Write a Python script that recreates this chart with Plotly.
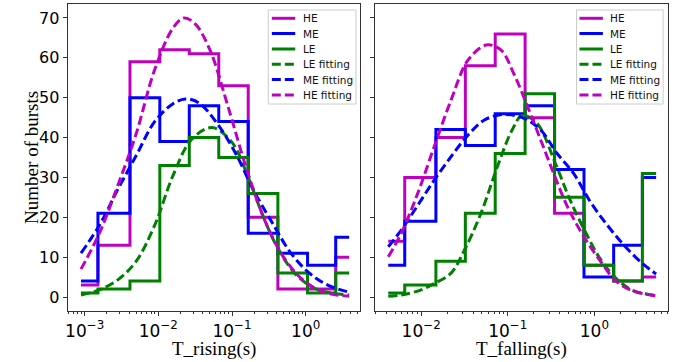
import plotly.graph_objects as go

# ---------------- data (log10 of x positions, counts) ----------------
rise_logx = [-3.05, -2.59, -2.18, -1.78, -1.38, -0.98, -0.58, -0.175, 0.225, 0.59]
he_rise = [3, 13, 59, 62, 61, 53, 20, 2, 2, 10]
me_rise = [4, 21, 50, 39, 48, 44, 16, 11, 8, 15]
le_rise = [1, 2, 4, 33, 40, 35, 26, 6, 1, 6]

fall_logx = [-2.38, -2.0, -1.66, -1.32, -0.97, -0.63, -0.29, 0.05, 0.395, 0.713]
he_fall = [14, 30, 40, 58, 66, 45, 21, 8, 4, 5]
me_fall = [8, 19, 42, 38, 46, 48, 32, 5, 13, 30]
le_fall = [1, 3, 9, 21, 36, 51, 25, 8, 4, 31]

# fitted curves
he_rise_fit_x = [-3.05, -2.8, -2.55, -2.3, -2.05, -1.8, -1.65, -1.5, -1.3, -1.05, -0.8, -0.55, -0.3, -0.05, 0.2, 0.4, 0.59]
he_rise_fit_y = [7, 16, 28, 41, 57, 67.5, 70, 68.5, 62, 47.5, 32, 19, 10, 4.5, 1.5, 0.6, 0.2]
me_rise_fit_x = [-3.05, -2.8, -2.55, -2.3, -2.05, -1.8, -1.63, -1.45, -1.2, -0.95, -0.7, -0.45, -0.2, 0.05, 0.3, 0.59]
me_rise_fit_y = [11, 18, 27, 35.5, 44, 48.5, 49.7, 48.7, 43.5, 36, 26.5, 18.5, 11, 6, 3, 1.2]
le_rise_fit_x = [-3.05, -2.8, -2.55, -2.3, -2.05, -1.8, -1.55, -1.27, -1.0, -0.8, -0.6, -0.4, -0.15, 0.1, 0.35, 0.59]
le_rise_fit_y = [0.5, 1.8, 4.3, 9, 18, 30.5, 39.5, 42.5, 38.8, 31, 21.3, 13, 6, 2.4, 1.0, 0.5]

he_fall_fit_x = [-2.38, -2.23, -2.04, -1.85, -1.655, -1.46, -1.25, -1.08, -0.93, -0.77, -0.62, -0.47, -0.31, -0.12, 0.07, 0.25, 0.45, 0.713]
he_fall_fit_y = [10.1, 16, 26, 37.7, 49.4, 59.4, 63.2, 62, 56, 47.7, 39.4, 31, 22.6, 15.1, 9, 4, 1.5, 0.3]
me_fall_fit_x = [-2.38, -2.23, -2.04, -1.85, -1.655, -1.46, -1.27, -1.04, -0.81, -0.62, -0.43, -0.24, -0.05, 0.15, 0.35, 0.55, 0.713]
me_fall_fit_y = [12.6, 16.8, 23, 29.3, 35.2, 40.6, 44.4, 45.8, 44.8, 41.9, 36, 31, 24, 18, 12.8, 8.5, 5.8]
le_fall_fit_x = [-2.38, -2.23, -2.0, -1.85, -1.655, -1.5, -1.31, -1.12, -0.95, -0.83, -0.66, -0.45, -0.28, -0.08, 0.07, 0.25, 0.45, 0.713]
le_fall_fit_y = [0.2, 0.5, 1.8, 3.4, 6, 11.8, 21, 32.7, 41.9, 45.6, 43.5, 33.5, 24.3, 15.3, 9.5, 4.7, 1.6, 0.4]

legend_labels = ["HE", "ME", "LE", "LE fitting", "ME fitting", "HE fitting"]

x_tick_vals = [1e-3, 1e-2, 1e-1, 1]
x_tick_text = ["10<sup>−3</sup>", "10<sup>−2</sup>", "10<sup>−1</sup>", "10<sup>0</sup>"]
y_tick_vals = [0, 10, 20, 30, 40, 50, 60, 70]

MAG = "#bf00bf"
BLUE = "#0000ff"
GREEN = "#008000"
DASH = "9px,4px"

W, H = 688, 362
mt, mb = 4, 51
PH = H - mt - mb


def px_x(p):
    return p / W


def px_y(p):
    return (H - mb - p) / PH


def pw(v):
    return [10 ** a for a in v]


fig = go.Figure()


def add_panel(xa, ya, step_x, he, me, le, fits):
    for name, ys, col in [("HE", he, MAG), ("ME", me, BLUE), ("LE", le, GREEN)]:
        fig.add_trace(go.Scatter(x=pw(step_x), y=ys, mode="lines", name=name, showlegend=False,
                                 line=dict(color=col, width=3, shape="hvh"),
                                 xaxis=xa, yaxis=ya))
    for name, fx, fy, col in fits:
        fig.add_trace(go.Scatter(x=pw(fx), y=fy, mode="lines", name=name, showlegend=False,
                                 line=dict(color=col, width=3, dash=DASH, shape="spline", smoothing=1.0),
                                 xaxis=xa, yaxis=ya))


add_panel("x", "y", rise_logx, he_rise, me_rise, le_rise,
          [("LE fitting", le_rise_fit_x, le_rise_fit_y, GREEN),
           ("ME fitting", me_rise_fit_x, me_rise_fit_y, BLUE),
           ("HE fitting", he_rise_fit_x, he_rise_fit_y, MAG)])
add_panel("x2", "y2", fall_logx, he_fall, me_fall, le_fall,
          [("LE fitting", le_fall_fit_x, le_fall_fit_y, GREEN),
           ("ME fitting", me_fall_fit_x, me_fall_fit_y, BLUE),
           ("HE fitting", he_fall_fit_x, he_fall_fit_y, MAG)])

# ---------------- legends (drawn as boxes + samples + text) ----------------
legend_styles = [(MAG, None), (BLUE, None), (GREEN, None), (GREEN, DASH), (BLUE, DASH), (MAG, DASH)]
legend_rows = [18.3, 33.5, 49, 64.2, 79.5, 95]
shapes = []
annotations = []
for (bx0, bx1, lx0, lx1, tx) in [(266.5, 354.5, 270, 293.5, 299.5), (576, 663, 579, 602.5, 607.5)]:
    shapes.append(dict(type="rect", xref="paper", yref="paper", x0=px_x(bx0), x1=px_x(bx1),
                       y0=px_y(104), y1=px_y(10), layer="above",
                       fillcolor="rgba(255,255,255,0.8)", line=dict(color="#cccccc", width=1)))
    for lab, (col, dash), ry in zip(legend_labels, legend_styles, legend_rows):
        shapes.append(dict(type="line", xref="paper", yref="paper", x0=px_x(lx0), x1=px_x(lx1),
                           y0=px_y(ry), y1=px_y(ry), layer="above",
                           line=dict(color=col, width=3, dash=dash if dash else "solid")))
        annotations.append(dict(text=lab, x=px_x(tx), y=px_y(ry), xref="paper", yref="paper",
                                showarrow=False, xanchor="left", yanchor="middle",
                                font=dict(family="DejaVu Sans", size=10.5, color="#111111")))


def minor_vals(lo, hi):
    out = []
    for e in range(lo, hi + 1):
        for k in range(2, 10):
            out.append(k * 10.0 ** e)
    return out


axis_common = dict(showgrid=False, zeroline=False, showline=True, linecolor="#333333", linewidth=1.2,
                   mirror=True, ticks="outside", ticklen=4, tickcolor="#333333", tickwidth=1.2)

xcommon = dict(axis_common, type="log", tickmode="array", tickvals=x_tick_vals, ticktext=x_tick_text,
               tickfont=dict(family="DejaVu Sans", size=17, color="black"))

annotations += [
    dict(text="T_rising(s)", x=px_x((65 + 359) / 2), y=px_y(349), xref="paper", yref="paper",
         showarrow=False, font=dict(family="Liberation Serif", size=19, color="black"),
         xanchor="center", yanchor="middle"),
    dict(text="T_falling(s)", x=px_x((374 + 668) / 2), y=px_y(349), xref="paper", yref="paper",
         showarrow=False, font=dict(family="Liberation Serif", size=19, color="black"),
         xanchor="center", yanchor="middle"),
    dict(text="Number of bursts", x=px_x(28), y=px_y(157), xref="paper", yref="paper",
         showarrow=False, textangle=-90, font=dict(family="Liberation Serif", size=19, color="black"),
         xanchor="center", yanchor="middle"),
]

fig.update_layout(
    width=W, height=H, margin=dict(l=0, r=0, t=mt, b=mb),
    paper_bgcolor="white", plot_bgcolor="white", showlegend=False,
    xaxis=dict(xcommon, domain=[65 / W, 359 / W], range=[-3.23, 0.743], anchor="y",
               minor=dict(tickmode="array", tickvals=minor_vals(-4, 0), ticks="outside", ticklen=2,
                          tickcolor="#333333", tickwidth=1, showgrid=False)),
    xaxis2=dict(xcommon, domain=[374 / W, 668 / W], range=[-2.529, 0.851], anchor="y2",
                minor=dict(tickmode="array", tickvals=minor_vals(-3, 0), ticks="outside", ticklen=2,
                           tickcolor="#333333", tickwidth=1, showgrid=False)),
    yaxis=dict(axis_common, domain=[0, 1], range=[-3.5, 73.5], tickmode="array", tickvals=y_tick_vals,
               tickfont=dict(family="DejaVu Sans", size=16, color="black"), anchor="x"),
    yaxis2=dict(axis_common, domain=[0, 1], range=[-3.5, 73.5], tickmode="array", tickvals=y_tick_vals,
                showticklabels=False, anchor="x2"),
    shapes=shapes,
    annotations=annotations,
)

fig.write_html("out.html")
